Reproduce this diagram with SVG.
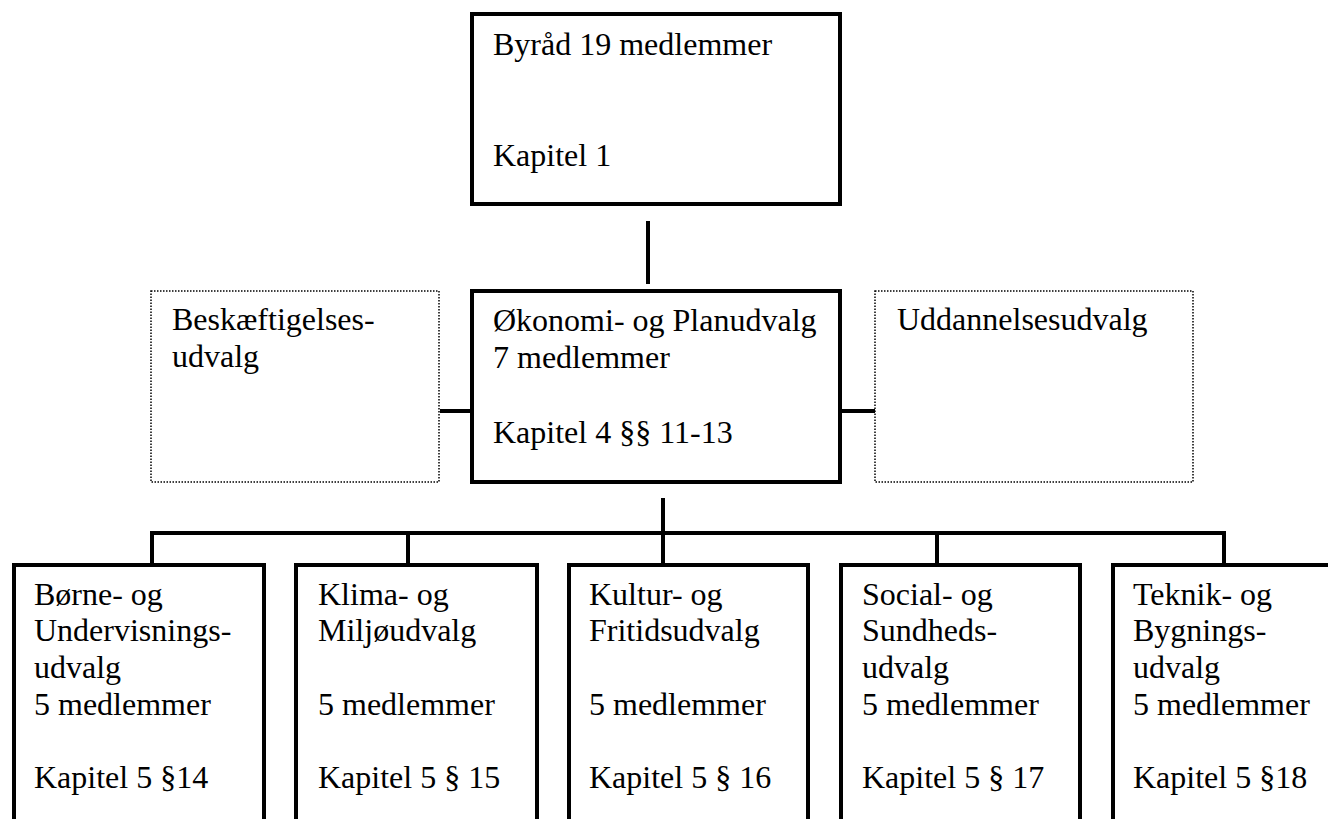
<svg xmlns="http://www.w3.org/2000/svg" width="1328" height="819" viewBox="0 0 1328 819">
<style>
.box{fill:#fff;stroke:#000;stroke-width:4}
.dot{fill:#fff;stroke:#000;stroke-width:1.5;stroke-dasharray:1.5 1.5}
.con line{stroke:#000;stroke-width:4}
text{font-family:"Liberation Serif","Times New Roman",serif;font-size:32px;fill:#000}
</style>
<rect width="1328" height="819" fill="#fff"/>
<g class="con" id="connectors">
<line x1="648" y1="221" x2="648" y2="284"/>
<line x1="440" y1="411" x2="472" y2="411"/>
<line x1="840" y1="411" x2="875" y2="411"/>
<line x1="663" y1="498" x2="663" y2="565"/>
<line x1="150" y1="533" x2="1226" y2="533"/>
<line x1="152" y1="531" x2="152" y2="565"/>
<line x1="408" y1="531" x2="408" y2="565"/>
<line x1="937" y1="531" x2="937" y2="565"/>
<line x1="1224" y1="531" x2="1224" y2="565"/>
</g>
<g id="byraad">
<rect class="box" x="472" y="14" width="368" height="190"/>
<text x="493" y="55">Byråd 19 medlemmer</text>
<text x="493" y="166">Kapitel 1</text>
</g>
<g id="oekonomi">
<rect class="box" x="472" y="291" width="368" height="191"/>
<text x="493" y="331">Økonomi- og Planudvalg</text>
<text x="493" y="368">7 medlemmer</text>
<text x="493" y="443">Kapitel 4 §§ 11-13</text>
</g>
<g id="beskaeftigelse">
<rect class="dot" x="151" y="291" width="288" height="191"/>
<text x="172" y="330">Beskæftigelses-</text>
<text x="172" y="367">udvalg</text>
</g>
<g id="uddannelse">
<rect class="dot" x="875" y="291" width="318" height="191"/>
<text x="897" y="330">Uddannelsesudvalg</text>
</g>
<g id="boerne">
<rect class="box" x="14" y="565" width="250" height="340"/>
<text x="34" y="605">Børne- og</text>
<text x="34" y="641">Undervisnings-</text>
<text x="34" y="678">udvalg</text>
<text x="34" y="715">5 medlemmer</text>
<text x="34" y="788">Kapitel 5 §14</text>
</g>
<g id="klima">
<rect class="box" x="296" y="565" width="241" height="340"/>
<text x="318" y="605">Klima- og</text>
<text x="318" y="641">Miljøudvalg</text>
<text x="318" y="715">5 medlemmer</text>
<text x="318" y="788">Kapitel 5 § 15</text>
</g>
<g id="kultur">
<rect class="box" x="569" y="565" width="239" height="340"/>
<text x="589" y="605">Kultur- og</text>
<text x="589" y="641">Fritidsudvalg</text>
<text x="589" y="715">5 medlemmer</text>
<text x="589" y="788">Kapitel 5 § 16</text>
</g>
<g id="social">
<rect class="box" x="841" y="565" width="239" height="340"/>
<text x="862" y="605">Social- og</text>
<text x="862" y="641">Sundheds-</text>
<text x="862" y="678">udvalg</text>
<text x="862" y="715">5 medlemmer</text>
<text x="862" y="788">Kapitel 5 § 17</text>
</g>
<g id="teknik">
<rect class="box" x="1113" y="565" width="300" height="340"/>
<text x="1133" y="605">Teknik- og</text>
<text x="1133" y="641">Bygnings-</text>
<text x="1133" y="678">udvalg</text>
<text x="1133" y="715">5 medlemmer</text>
<text x="1133" y="788">Kapitel 5 §18</text>
</g>
</svg>
